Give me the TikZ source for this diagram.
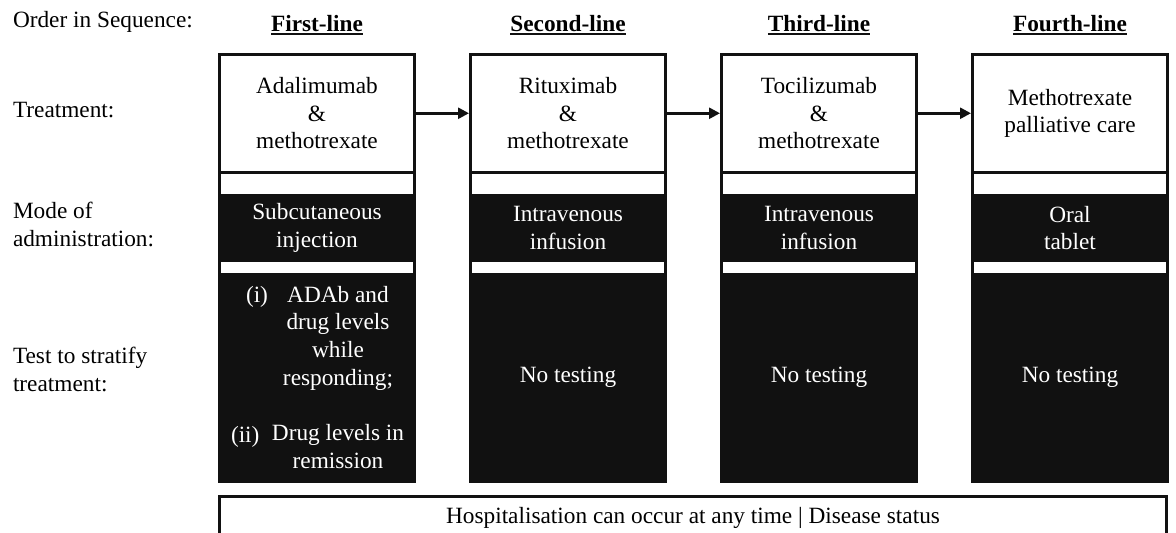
\documentclass[tikz,border=0pt]{standalone}
\usepackage{fontspec}
\setmainfont{Liberation Serif}
\usetikzlibrary{arrows.meta}
\definecolor{ink}{HTML}{111111}
\begin{document}
\begin{tikzpicture}[x=1pt,y=-1pt,
  every node/.style={font=\fontsize{23.3}{27.7}\selectfont, inner sep=0pt, outer sep=0pt},
  rowlabel/.style={anchor=north west, align=left},
  headtext/.style={anchor=base, font=\fontsize{23.3}{27.7}\selectfont\bfseries},
  treatbox/.style={draw=ink, line width=3pt, fill=white, minimum width=195pt, minimum height=117.5pt, align=center},
  darkbox/.style={fill=ink, text=white, minimum width=198pt, align=center},
  modebox/.style={darkbox, minimum height=68pt},
  testbox/.style={darkbox, minimum height=208.5pt},
  frame/.style={draw=ink, line width=3pt},
  headline/.style={draw=ink, line width=2pt},
  seqarrow/.style={draw=ink, line width=2.5pt, shorten >=1.5pt, -{Triangle[length=11pt,width=11pt]}},
]
% canvas
\fill[white] (0,0) rectangle (1176,533);
\useasboundingbox (0,0) rectangle (1176,533);

% row labels
\node[anchor=base west] (lorder) at (13,27) {Order in Sequence:};
\node[anchor=base west] (ltreat) at (13,117) {Treatment:};
\node[rowlabel] (lmode) at (13,202) {Mode of\\administration:};
\node[rowlabel] (ltest) at (13,347) {Test to stratify\\treatment:};

% column headers
\node[headtext] (h1) at (317,31) {First-line};
\node[headtext] (h2) at (568,31) {Second-line};
\node[headtext] (h3) at (819,31) {Third-line};
\node[headtext] (h4) at (1070,31) {Fourth-line};
\foreach \h in {h1,h2,h3,h4}
  \draw[headline] ([yshift=-2.5pt]\h.base west) -- ([yshift=-2.5pt]\h.base east);

% treatment boxes
\node[treatbox] (t1) at (317,113.25) {Adalimumab\\\&\\methotrexate};
\node[treatbox] (t2) at (568,113.25) {Rituximab\\\&\\methotrexate};
\node[treatbox] (t3) at (819,113.25) {Tocilizumab\\\&\\methotrexate};
\node[treatbox] (t4) at (1070,113.25) {Methotrexate\\palliative care};

% mode of administration
\node[modebox] (m1) at (317,228) {Subcutaneous\\injection};
\node[modebox] (m2) at (568,228) {Intravenous\\infusion};
\node[modebox] (m3) at (819,228) {Intravenous\\infusion};
\node[modebox] (m4) at (1070,228) {Oral\\tablet};

% stratification tests
\node[testbox] (s1) at (317,377.25) {};
\node[testbox] (s2) at (568,377.25) {No testing};
\node[testbox] (s3) at (819,377.25) {No testing};
\node[testbox] (s4) at (1070,377.25) {No testing};
\node[anchor=north, align=center, text=white] (s1text) at (338,286)
  {ADAb and\\drug levels\\while\\responding;\\[27.7pt]Drug levels in\\remission};
\node[anchor=base west, text=white] (s1i) at (246,302) {(i)};
\node[anchor=base west, text=white] (s1ii) at (231,442) {(ii)};

% column frames
\foreach \c in {1,2,3,4}
  \draw[frame] (t\c.north west) rectangle (t\c.east |- s\c.south);

% sequence arrows
\draw[seqarrow] (t1.east) -- (t2.west);
\draw[seqarrow] (t2.east) -- (t3.west);
\draw[seqarrow] (t3.east) -- (t4.west);

% status bar along the bottom
\begin{scope}
  \clip (0,0) rectangle (1176,533);
  \node[draw=ink, line width=3pt, minimum width=947pt, minimum height=63.5pt] (hosp) at (693,528.25) {};
\end{scope}
\node[anchor=base] (hosptext) at (693,523) {Hospitalisation can occur at any time | Disease status};
\end{tikzpicture}
\end{document}
